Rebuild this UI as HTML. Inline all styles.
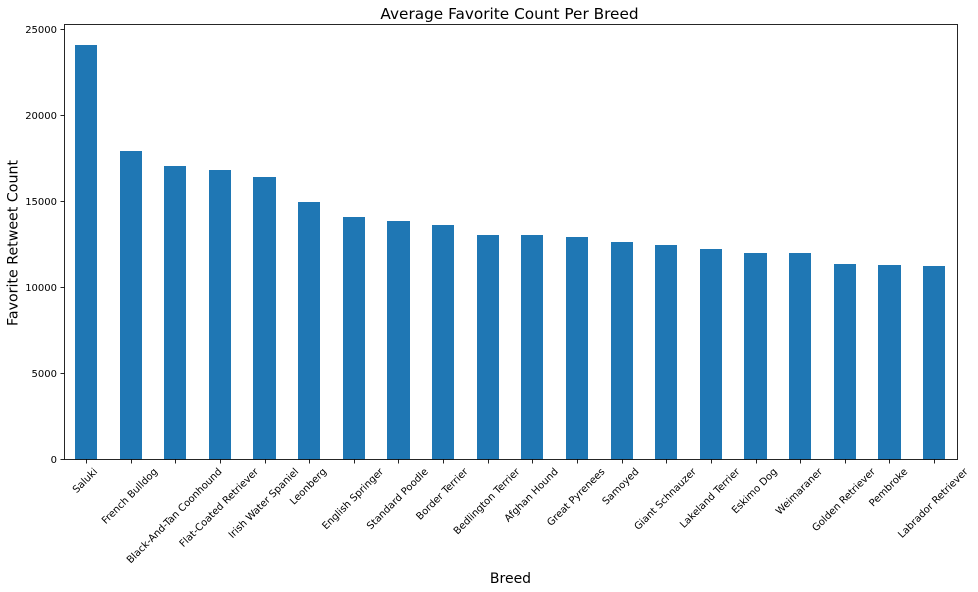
<!DOCTYPE html>
<html lang="en">
<head>
<meta charset="utf-8">
<title>Average Favorite Count Per Breed</title>
<style>
html,body{margin:0;padding:0;background:#fff;width:978px;height:592px;overflow:hidden}
svg{display:block;font-family:"DejaVu Sans",sans-serif}
</style>
</head>
<body>
<svg id="chart" xmlns="http://www.w3.org/2000/svg" width="978" height="592" viewBox="0 0 978 592">
  <rect x="0" y="0" width="978" height="592" fill="#ffffff"/>
  <g id="bars"></g>
  <g id="y-ticks"></g>
  <g id="x-ticks"></g>
  <rect x="64.5" y="24.5" width="893" height="435" fill="none" stroke="#000" stroke-width="1" opacity="0.85"/>
  <text x="509.5" y="19" font-size="15.3" text-anchor="middle" fill="#000">Average Favorite Count Per Breed</text>
  <text x="510.5" y="583" font-size="14" text-anchor="middle" fill="#000">Breed</text>
  <text transform="translate(17.5,243) rotate(-90)" font-size="14.2" text-anchor="middle" fill="#000">Favorite Retweet Count</text>
</svg>
<script>
const categories = ["Saluki","French Bulldog","Black-And-Tan Coonhound","Flat-Coated Retriever","Irish Water Spaniel","Leonberg","English Springer","Standard Poodle","Border Terrier","Bedlington Terrier","Afghan Hound","Great Pyrenees","Samoyed","Giant Schnauzer","Lakeland Terrier","Eskimo Dog","Weimaraner","Golden Retriever","Pembroke","Labrador Retriever"];
const favoriteCounts = [24098,17936,17064,16830,16424,14970,14100,13866,13634,13052,13030,12930,12640,12470,12240,12000,11990,11370,11300,11240];
const yTickValues = [0,5000,10000,15000,20000,25000];

const NS = "http://www.w3.org/2000/svg";
const plot = {left:63.755, bottom:459.5, pxPerUnit:430/25000};
const step = 44.63;
const barWidth = 22.25;
const xScale = i => plot.left + step * (i + 0.5);
const yScale = v => plot.bottom - v * plot.pxPerUnit;

function make(tag, attrs, parent) {
  const el = document.createElementNS(NS, tag);
  for (const k in attrs) el.setAttribute(k, attrs[k]);
  parent.appendChild(el);
  return el;
}

const barsG = document.getElementById("bars");
const xG = document.getElementById("x-ticks");
const yG = document.getElementById("y-ticks");

favoriteCounts.forEach((v, i) => {
  const cx = xScale(i);
  const x0 = Math.round(cx - barWidth / 2);
  const x1 = Math.round(cx + barWidth / 2);
  const top = Math.round(yScale(v));
  const bar = make("rect", {x:x0, y:top, width:x1 - x0, height:459.5 - top, fill:"#1f77b4"}, barsG);
  
  
});

categories.forEach((c, i) => {
  const tx = Math.round(xScale(i)) + 0.5;
  const tick = make("line", {x1:tx, x2:tx, y1:459.5, y2:463.5, stroke:"#000", "stroke-width":1, opacity:0.85}, xG);
  
  
  const label = make("text", {"font-size":10, "text-anchor":"middle", "dominant-baseline":"central", fill:"#000"}, xG);
  label.textContent = c;
  
  
  const len = label.getComputedTextLength();
  const side = (len + 11) * Math.SQRT1_2;
  const cy = 466.5 + side / 2;
  label.setAttribute("transform", "translate(" + (xScale(i) - 0.6) + "," + cy + ") rotate(-45)");
});

yTickValues.forEach(v => {
  const ty = Math.floor(yScale(v)) + 0.5;
  const tick = make("line", {x1:60.5, x2:64.5, y1:ty, y2:ty, stroke:"#000", "stroke-width":1, opacity:0.85}, yG);
  
  
  const label = make("text", {x:57, y:ty + 3.5, "font-size":10, "text-anchor":"end", fill:"#000"}, yG);
  label.textContent = String(v);
  
  
});
</script>
</body>
</html>
